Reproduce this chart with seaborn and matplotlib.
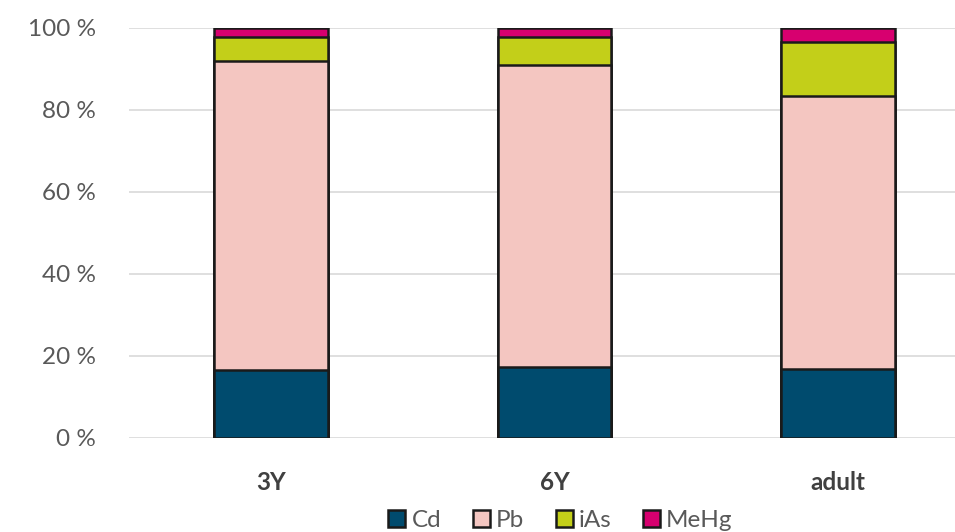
import matplotlib
matplotlib.use("Agg")
import matplotlib.pyplot as plt
import matplotlib.patches as mpatches
import numpy as np
import pandas as pd
import seaborn as sns

# Share of each contaminant in total exposure (%)
groups = ["3Y", "6Y", "adult"]
cd = [16.5, 17.3, 16.7]
pb = [75.4, 73.6, 66.7]
ias = [5.9, 6.9, 13.0]
mehg = [2.2, 2.2, 3.6]

series_names = ["Cd", "Pb", "iAs", "MeHg"]
series_colors = ["#004B6E", "#F4C6C1", "#C3CF19", "#D7006F"]

sns.set_theme(style="white")
plt.rcParams["font.family"] = ["Lato", "DejaVu Sans"]

fig = plt.figure(figsize=(9.55, 5.32), dpi=100)
ax = fig.add_axes([0.1351, 0.1773, 0.8649, 0.7707])

df = pd.DataFrame({"group": groups, "Cd": cd, "Pb": pb, "iAs": ias, "MeHg": mehg})
cum = df[series_names].cumsum(axis=1)

# Draw cumulative layers from the top segment down so each lower segment sits on top
for name, color in reversed(list(zip(series_names, series_colors))):
    sns.barplot(x=df["group"], y=cum[name], color=color, edgecolor="#1a1a1a",
                linewidth=1.8, width=0.40, saturation=1, ax=ax, zorder=3)

ax.set_xlim(-0.5, 2.412)
ax.set_ylim(0, 100)
ax.set_yticks(np.arange(0, 101, 20))
ax.set_yticklabels([f"{v} %" for v in range(0, 101, 20)])
ax.yaxis.grid(True, color="#d9d9d9", linewidth=1.2, zorder=0)
ax.set_axisbelow(True)
for s in ax.spines.values():
    s.set_visible(False)

ax.set_xlabel("")
ax.set_ylabel("")
ax.tick_params(axis="y", length=0, pad=24, labelsize=17.5, labelcolor="#595959")
ax.tick_params(axis="x", length=0, pad=24, labelsize=17.5, labelcolor="#404040")
for lbl in ax.get_xticklabels():
    lbl.set_fontweight("bold")

handles = [mpatches.Patch(facecolor=c, edgecolor="#1a1a1a", linewidth=1.8, label=n)
           for n, c in zip(series_names, series_colors)]
fig.legend(handles=handles, loc="center", bbox_to_anchor=(0.587, 0.022), ncol=4,
           frameon=False, fontsize=17.5, handlelength=0.7, handleheight=0.7,
           handletextpad=0.25, columnspacing=1.3, labelcolor="#595959")

fig.savefig("out.png", dpi=100)
